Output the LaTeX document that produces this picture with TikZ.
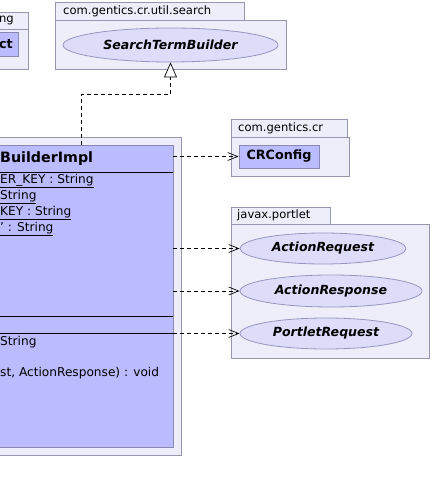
\documentclass[tikz,border=0pt]{standalone}
\usepackage{fontspec}
\setmainfont{DejaVu Sans}
\usetikzlibrary{arrows.meta,shapes.geometric}
\definecolor{pkgfill}{RGB}{238,238,251}
\definecolor{pkgline}{RGB}{150,150,172}
\definecolor{clsfill}{RGB}{187,187,255}
\definecolor{clsline}{RGB}{136,136,176}
\definecolor{ellfill}{RGB}{221,221,250}
\definecolor{ellline}{RGB}{150,150,190}
\tikzset{
  pkg/.style={draw=pkgline, fill=pkgfill, line width=0.8bp},
  pkgtext/.style={anchor=west, inner sep=0pt, font=\fontsize{11.6}{13}\selectfont},
  classbox/.style={draw=clsline, fill=clsfill, line width=0.8bp, rectangle, inner sep=0pt},
  ifc/.style={ellipse, draw=ellline, fill=ellfill, line width=0.8bp, inner sep=0pt, font=\fontsize{12.6}{14}\selectfont\bfseries\itshape},
  member/.style={anchor=west, inner sep=0pt, font=\fontsize{12.2}{14}\selectfont},
  dep/.style={draw=black, line width=0.7bp, dash pattern=on 4bp off 3bp, -{Straight Barb[length=10bp,width=8bp]}},
  realize/.style={draw=black, line width=0.7bp, dash pattern=on 4bp off 3bp, -{Triangle[open,length=15bp,width=13bp,fill=white]}}
}
\begin{document}
\begin{tikzpicture}[x=1bp,y=-1bp]
\useasboundingbox (0,0) rectangle (432,493);
\clip (0,0) rectangle (432,493);
% top-left package (cut off)
\draw[pkg] (-10,12) rectangle (28,29);
\draw[pkg] (-10,29) rectangle (28,69);
\node[pkgtext, anchor=east] (ngtxt) at (14,20.5) {ng};
\node[classbox, minimum width=28bp, minimum height=24bp] (ctbox) at (4,44) {};
\node[anchor=east, inner sep=0pt, font=\fontsize{12.8}{14}\selectfont\bfseries] (cttxt) at (13,44) {ct};
% com.gentics.cr.util.search
\draw[pkg] (55,2) rectangle (244,20);
\draw[pkg] (55,20) rectangle (286,69);
\node[pkgtext] (p1) at (63,11) {com.gentics.cr.util.search};
\node[ifc, minimum width=215bp, minimum height=34bp] (stb) at (170.5,45) {SearchTermBuilder};
% main package and class
\draw[pkg] (-10,137) rectangle (181,455);
\node[classbox, minimum width=183bp, minimum height=302bp] (cls) at (81.5,296) {};
\draw[black, line width=0.8bp] (-10,172) -- (cls.east |- 0,172);
\draw[black, line width=0.8bp] (-10,316) -- (cls.east |- 0,316);
\draw[black, line width=0.8bp] (-10,333) -- (cls.east |- 0,333);
\node[anchor=west, inner sep=0pt, font=\fontsize{14.3}{16}\selectfont\bfseries] (title) at (0,159) {BuilderImpl};
\node[member] (a1) at (0,181) {\underline{ER\_KEY : String}};
\node[member] (a2) at (0,197) {\underline{String}};
\node[member] (a3) at (0,213) {\underline{KEY : String}};
\node[member] (a4) at (0,229) {\underline{' : String}};
\node[member] (m1) at (0,342) {String};
\node[member] (m2) at (0,373) {st, ActionResponse) : void};
% com.gentics.cr
\draw[pkg] (231,119) rectangle (347,137);
\draw[pkg] (231,137) rectangle (349,176);
\node[pkgtext] (p2) at (238,128) {com.gentics.cr};
\node[classbox, minimum width=80bp, minimum height=23bp, font=\fontsize{12.8}{14}\selectfont\bfseries] (crc) at (279,156.5) {CRConfig};
% javax.portlet
\draw[pkg] (231,207) rectangle (330,224);
\draw[pkg] (231,224) rectangle (429,358);
\node[pkgtext] (p3) at (237,215.5) {javax.portlet};
\node[ifc, minimum width=166bp, minimum height=31bp] (areq) at (323,248.5) {ActionRequest};
\node[ifc, minimum width=182bp, minimum height=32bp] (aresp) at (331,291) {ActionResponse};
\node[ifc, minimum width=172bp, minimum height=31bp] (preq) at (326,333.5) {PortletRequest};
% connectors
\coordinate (bend1) at (81.5,94);
\coordinate (bend2) at (170.5,94);
\draw[realize] (cls.north) -- (bend1) -- (bend2) -- (stb.south);
\draw[dep] (cls.east |- crc.west) -- (crc.west);
\draw[dep] (cls.east |- areq.west) -- (areq.west);
\draw[dep] (cls.east |- aresp.west) -- (aresp.west);
\draw[dep] (cls.east |- preq.west) -- (preq.west);
\end{tikzpicture}
\end{document}
